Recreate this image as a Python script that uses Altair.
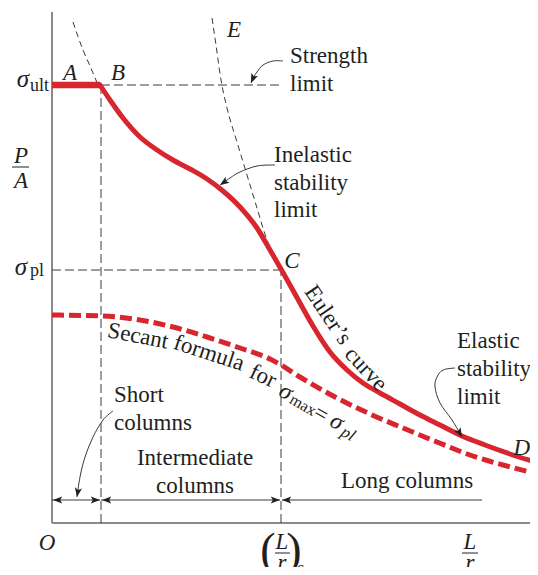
import altair as alt
import pandas as pd

# Picture units: x = L/r measured from O, y = P/A measured up from the L/r axis
XMAX, YMAX = 478, 515

RED = "#d7262d"
INK = "#231f20"
GUIDE = "#3a3a3a"
AXIS = "#8a8a8a"
FONT = "Liberation Serif"
FS = 23

# Inelastic stability limit B-C joined to Euler's curve C-D
curve_x = [48, 58, 71, 88, 105, 121, 138, 155, 171, 188, 205, 218, 229, 238, 248, 261, 278, 295, 311, 328, 348, 368, 388, 410, 433, 458, 486]
curve_y = [438, 423, 405, 386, 373, 363, 354, 344, 332, 316, 295, 273, 254, 238, 220, 197, 171, 153, 140, 130, 119, 108, 98, 87, 78, 69, 60]

# Secant formula for sigma_max = sigma_pl (dashed)
sec_x = [0, 50, 88, 121, 155, 188, 218, 229, 248, 285, 318, 351, 385, 418, 451, 486]
sec_y = [208, 207, 203, 196, 186, 175, 164, 158, 146, 125, 109, 95, 81, 68, 58, 49]

# Euler curve continued above C (thin dashed, to E)
e_x = [160, 164, 169, 175, 185, 195, 205, 215, 223]
e_y = [505, 478, 443, 415, 381, 348, 315, 283, 265]

# short dashed curve ending at B
s_x = [21, 31, 38, 46]
s_y = [501, 473, 457, 438]

# key levels
SIG_ULT = 438
SIG_PL = 253
X_B = 49
X_C = 229
ARROW_Y = 23

# strength-limit segment A-B
ab_x = [0, 48]

# leader lines of the notes
lead_g = ["s"] * 6 + ["i"] * 5 + ["sh"] * 6 + ["e"] * 7
lead_x = [231, 221, 211, 205, 201, 199,
          223, 205, 188, 178, 168,
          61, 51, 41, 33, 28, 25,
          403, 391, 385, 383, 388, 400, 410]
lead_y = [462, 462, 458, 451, 445, 440,
          358, 357, 351, 345, 338,
          112, 103, 86, 66, 46, 26,
          155, 153, 146, 136, 120, 103, 86]

# arrow heads (tip position and pointing angle, clockwise from up)
head_x = [1, 48, 50, 228, 230, 199, 168, 25, 410]
head_y = [ARROW_Y, ARROW_Y, ARROW_Y, ARROW_Y, ARROW_Y, 440, 338, 26, 86]
head_a = [270, 90, 270, 90, 270, 203, 236, 189, 150]

# texts
roman_left_t = ["Strength", "limit", "Inelastic", "stability", "limit", "Elastic", "stability", "limit", "Short", "columns", "ult", "pl"]
roman_left_x = [238, 238, 222, 222, 222, 405, 405, 405, 62, 62, -22, -22]
roman_left_y = [460, 432, 361, 333, 306, 175, 147, 119, 121, 93, 432, 247]
roman_left_s = [FS, FS, FS, FS, FS, FS, FS, FS, FS, FS, 18, 18]

roman_c_t = ["Intermediate", "columns", "Long columns", "(", ")"]
roman_c_x = [143, 143, 355, 216, 242]
roman_c_y = [58, 30, 35, -42, -42]
roman_c_s = [FS, FS, FS, 46, 46]

ital_t = ["A", "B", "E", "C", "O", "P", "A", "σ", "σ", "L", "r", "c", "L", "r"]
ital_x = [18, 66, 182, 240, -5, -31, -31, -29, -31, 230, 230, 248, 418, 418]
ital_y = [443, 443, 486, 255, -27, 360, 335, 436, 248, -26, -47, -50, -26, -47]
ital_s = [FS, FS, FS, FS, FS, FS, FS, 25, 25, FS, FS, 16, FS, FS]

# end label D (right-aligned at the chart edge)
d_x, d_y = [478], [68]

rot_t = ["Euler’s", "curve", "Secant", "formula", "for", "max", "="]
rot_x = [276, 314, 86, 157, 211, 251, 269]
rot_y = [208, 154, 187, 170, 147, 118, 109]
rot_a = [56, 47, 11, 18, 25, 30, 30]
rot_s = [FS, FS, FS, FS, FS, 16, FS]

roti_t = ["σ", "σ", "pl"]
roti_x = [234, 285, 296]
roti_y = [131, 101, 89]
roti_a = [30, 30, 30]
roti_s = [24, 24, 17]

# fraction bars
bar_x = [-40, 223, 410]
bar_x2 = [-23, 238, 426]
bar_y = [356, -30, -30]


def X():
    return alt.X("x:Q", scale=alt.Scale(domain=[0, XMAX], nice=False, zero=False), axis=None)


def Y():
    return alt.Y("y:Q", scale=alt.Scale(domain=[0, YMAX], nice=False, zero=False), axis=None)


def line_df(xs, ys):
    return pd.DataFrame({"x": xs, "y": ys, "i": list(range(len(xs)))})


def line(xs, ys, **kw):
    return alt.Chart(line_df(xs, ys)).mark_line(**kw).encode(x=X(), y=Y(), order="i:Q")


def rules(xs, x2s, ys, y2s, **kw):
    df = pd.DataFrame({"x": xs, "x2": x2s, "y": ys, "y2": y2s})
    return alt.Chart(df).mark_rule(**kw).encode(x=X(), x2="x2:Q", y=Y(), y2="y2:Q")


layers = []

# axes
layers.append(rules([0, 0], [0, XMAX], [0, 0], [511, 0], color=AXIS, strokeWidth=2))

# dashed guides
layers.append(rules([X_B, 0, X_B, X_C], [231, X_C, X_B, X_C],
                    [SIG_ULT, SIG_PL, 0, 0], [SIG_ULT, SIG_PL, SIG_ULT, SIG_PL],
                    color=GUIDE, strokeWidth=1, strokeDash=[9, 4]))

# bottom range lines
layers.append(rules([0, 49, 230], [48, 228, 430], [ARROW_Y] * 3, [ARROW_Y] * 3,
                    color=GUIDE, strokeWidth=1))

# thin dashed curves
layers.append(line(e_x, e_y, color=GUIDE, strokeWidth=1, strokeDash=[6, 4], interpolate="monotone"))
layers.append(line(s_x, s_y, color=GUIDE, strokeWidth=1, strokeDash=[6, 4], interpolate="monotone"))

# secant (dashed red)
layers.append(line(sec_x, sec_y, color=RED, strokeWidth=5, strokeDash=[12, 5], interpolate="monotone"))

# red A-B and B-C-D
layers.append(line(ab_x, [SIG_ULT, SIG_ULT], color=RED, strokeWidth=6.5))
layers.append(line(curve_x, curve_y, color=RED, strokeWidth=5, interpolate="monotone", strokeCap="round"))

# leaders
lead_df = pd.DataFrame({"x": lead_x, "y": lead_y, "g": lead_g,
                        "i": list(range(len(lead_x)))})
layers.append(alt.Chart(lead_df).mark_line(color=GUIDE, strokeWidth=1, interpolate="cardinal").encode(
    x=X(), y=Y(), detail="g:N", order="i:Q"))

# arrow heads
ARROW = "M0,0 L0.9,2.3 L0,1.8 L-0.9,2.3 Z"
head_df = pd.DataFrame({"x": head_x, "y": head_y, "a": head_a})
layers.append(alt.Chart(head_df).mark_point(shape=ARROW, filled=True, size=64, color=INK,
                                            opacity=1, strokeWidth=0).encode(
    x=X(), y=Y(), angle=alt.Angle("a:Q", scale=None)))

# fraction bars
layers.append(rules(bar_x, bar_x2, bar_y, bar_y, color=INK, strokeWidth=1))


def texts(ts, xs, ys, ss, angles=None, **kw):
    df = pd.DataFrame({"x": xs, "y": ys, "t": ts, "s": ss})
    enc = dict(x=X(), y=Y(), text="t:N", size=alt.Size("s:Q", scale=None))
    if angles is not None:
        df["a"] = angles
        enc["angle"] = alt.Angle("a:Q", scale=None)
    return alt.Chart(df).mark_text(font=FONT, color=INK, **kw).encode(**enc)


layers.append(texts(roman_left_t, roman_left_x, roman_left_y, roman_left_s,
                    align="left", baseline="alphabetic"))
layers.append(texts(roman_c_t, roman_c_x, roman_c_y, roman_c_s,
                    align="center", baseline="alphabetic"))
layers.append(texts(ital_t, ital_x, ital_y, ital_s,
                    align="center", baseline="alphabetic", fontStyle="italic"))
layers.append(texts(["D"], d_x, d_y, [FS],
                    align="right", baseline="alphabetic", fontStyle="italic"))
layers.append(texts(rot_t, rot_x, rot_y, rot_s, angles=rot_a,
                    align="center", baseline="middle"))
layers.append(texts(roti_t, roti_x, roti_y, roti_s, angles=roti_a,
                    align="center", baseline="middle", fontStyle="italic"))

chart = alt.layer(*layers).properties(
    width=XMAX, height=YMAX,
    padding={"left": 44, "top": 0, "right": 0, "bottom": 44},
    autosize=alt.AutoSizeParams(type="none"),
    background="white",
).configure_view(stroke=None)

chart.save("out.html", embed_options={"renderer": "svg", "actions": False})
